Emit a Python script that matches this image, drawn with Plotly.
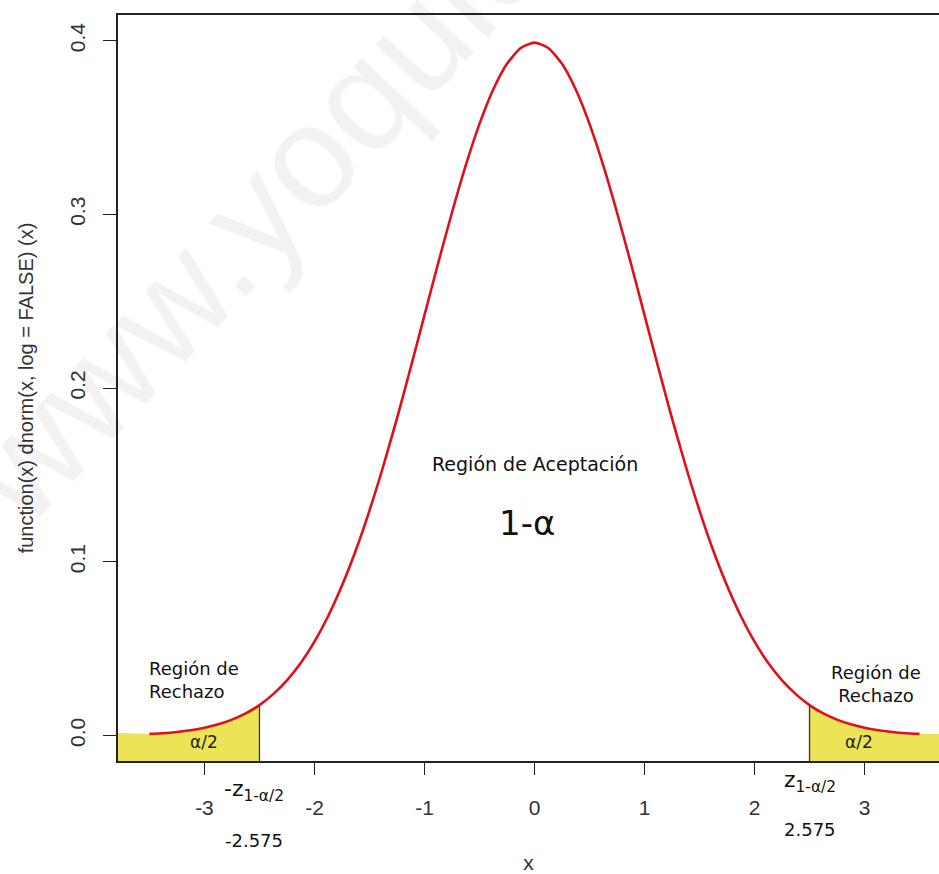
import plotly.graph_objects as go

# ---- data ----
x_vals = [-3.5, -3.375, -3.25, -3.125, -3.0, -2.875, -2.75, -2.625, -2.5, -2.375, -2.25, -2.125,
          -2.0, -1.875, -1.75, -1.625, -1.5, -1.375, -1.25, -1.125, -1.0, -0.875, -0.75, -0.625,
          -0.5, -0.375, -0.25, -0.125, 0.0, 0.125, 0.25, 0.375, 0.5, 0.625, 0.75, 0.875, 1.0,
          1.125, 1.25, 1.375, 1.5, 1.625, 1.75, 1.875, 2.0, 2.125, 2.25, 2.375, 2.5, 2.625, 2.75,
          2.875, 3.0, 3.125, 3.25, 3.375, 3.5]
density = [0.0009, 0.0013, 0.0020, 0.0030, 0.0044, 0.0064, 0.0091, 0.0127, 0.0175, 0.0238, 0.0317,
           0.0417, 0.0540, 0.0688, 0.0863, 0.1065, 0.1295, 0.1550, 0.1826, 0.2119, 0.2420, 0.2721,
           0.3011, 0.3282, 0.3521, 0.3719, 0.3867, 0.3958, 0.3989, 0.3958, 0.3867, 0.3719, 0.3521,
           0.3282, 0.3011, 0.2721, 0.2420, 0.2119, 0.1826, 0.1550, 0.1295, 0.1065, 0.0863, 0.0688,
           0.0540, 0.0417, 0.0317, 0.0238, 0.0175, 0.0127, 0.0091, 0.0064, 0.0044, 0.0030, 0.0020,
           0.0013, 0.0009]

x_ticks = [-3, -2, -1, 0, 1, 2, 3]
x_ticktext = ["-3", "-2", "-1", "0", "1", "2", "3"]
y_ticks = [0.0, 0.1, 0.2, 0.3, 0.4]
y_ticktext = ["0.0", "0.1", "0.2", "0.3", "0.4"]

shade_cut = 2.5            # where the shaded tails start (as drawn)
critical_label = "2.575"   # printed critical value
edge_density_left = 0.0015
edge_density_right = 0.0008

x_range = [-3.786, 3.677]
y_range = [-0.0147, 0.4148]

FONT_AX = "Liberation Sans, Arial, sans-serif"
FONT_TX = "DejaVu Sans, Verdana, sans-serif"
YELLOW = "#EDE357"
RED = "#DF101C"

fig = go.Figure()

# left tail
lx = [x_range[0]] + [x for x in x_vals if x <= -shade_cut]
ly = [edge_density_left] + [d for x, d in zip(x_vals, density) if x <= -shade_cut]
fig.add_trace(go.Scatter(x=lx + [-shade_cut, x_range[0]], y=ly + [y_range[0], y_range[0]],
                         fill="toself", fillcolor=YELLOW, line=dict(width=0),
                         mode="lines", hoverinfo="skip", showlegend=False))
# right tail
rx = [x for x in x_vals if x >= shade_cut] + [x_range[1]]
ry = [d for x, d in zip(x_vals, density) if x >= shade_cut] + [edge_density_right]
fig.add_trace(go.Scatter(x=rx + [x_range[1], shade_cut], y=ry + [y_range[0], y_range[0]],
                         fill="toself", fillcolor=YELLOW, line=dict(width=0),
                         mode="lines", hoverinfo="skip", showlegend=False))

# cut lines
cut_y = [d for x, d in zip(x_vals, density) if x == shade_cut][0]
for cx in (-shade_cut, shade_cut):
    fig.add_trace(go.Scatter(x=[cx, cx], y=[cut_y, y_range[0]], mode="lines",
                             line=dict(color="#333333", width=1.3), hoverinfo="skip", showlegend=False))

# density curve
fig.add_trace(go.Scatter(x=x_vals, y=density, mode="lines",
                         line=dict(color=RED, width=2.6, shape="spline", smoothing=0.6),
                         showlegend=False))


def label(text, x, y, size, xref="x", yref="y", **kw):
    d = dict(text=text, x=x, y=y, xref=xref, yref=yref, showarrow=False,
             xanchor=kw.pop("xanchor", "center"), yanchor="middle",
             font=dict(family=kw.pop("family", FONT_TX), size=size, color=kw.pop("color", "#111")))
    d.update(kw)
    return d


ann = [
    # watermark
    label("www.yoquieroaprobar.es", 0.508, 1.137, 146, xref="paper", yref="paper", textangle=-47,
          family="Liberation Sans, Arial, sans-serif", color="rgba(0,0,0,0.05)"),
    label("Región de Aceptación", 0.0, 0.1565, 19),
    label("1-α", -0.07, 0.1225, 34),
    label("Región de<br>Rechazo", -3.52, 0.032, 18, xanchor="left", align="left"),
    label("Región de<br>Rechazo", 3.10, 0.0295, 18, align="center"),
    label("α/2", -3.0, -0.004, 17, color="#222"),
    label("α/2", 2.95, -0.004, 17, color="#222"),
    label("-z<sub>1-α/2</sub>", -2.55, -0.04, 22, yref="paper"),
    label("z<sub>1-α/2</sub>", 2.50, -0.028, 22, yref="paper"),
    label("-" + critical_label, -2.55, -0.106, 18, yref="paper"),
    label(critical_label, 2.50, -0.092, 18, yref="paper"),
]

fig.update_layout(
    width=939, height=874,
    margin=dict(l=118, r=0, t=15, b=113),
    paper_bgcolor="white", plot_bgcolor="white",
    annotations=ann,
    xaxis=dict(range=x_range, tickvals=x_ticks, ticktext=x_ticktext, showgrid=False, zeroline=False,
               showline=True, linecolor="#222", linewidth=1.5, mirror=True, automargin=False,
               ticks="outside", ticklen=12, tickwidth=1.3, tickcolor="#222",
               tickfont=dict(family=FONT_AX, size=21, color="#333"), ticklabelstandoff=15,
               title=dict(text="x", font=dict(family=FONT_AX, size=21, color="#333"), standoff=52)),
    yaxis=dict(range=y_range, tickvals=y_ticks, ticktext=y_ticktext, showgrid=False, zeroline=False,
               showline=True, linecolor="#222", linewidth=1.5, automargin=False,
               ticks="outside", ticklen=13, tickwidth=1.3, tickcolor="#222", tickangle=-90,
               tickfont=dict(family=FONT_AX, size=21, color="#333"), ticklabelstandoff=10,
               title=dict(text="function(x) dnorm(x, log = FALSE) (x)",
                          font=dict(family=FONT_AX, size=20, color="#333"), standoff=27)),
)

# remove the default page margin so the 939x874 figure fills the window exactly
fig.write_html("out.html", config={"displayModeBar": False},
               post_script="document.body.style.margin='0';document.body.style.overflow='hidden';")
